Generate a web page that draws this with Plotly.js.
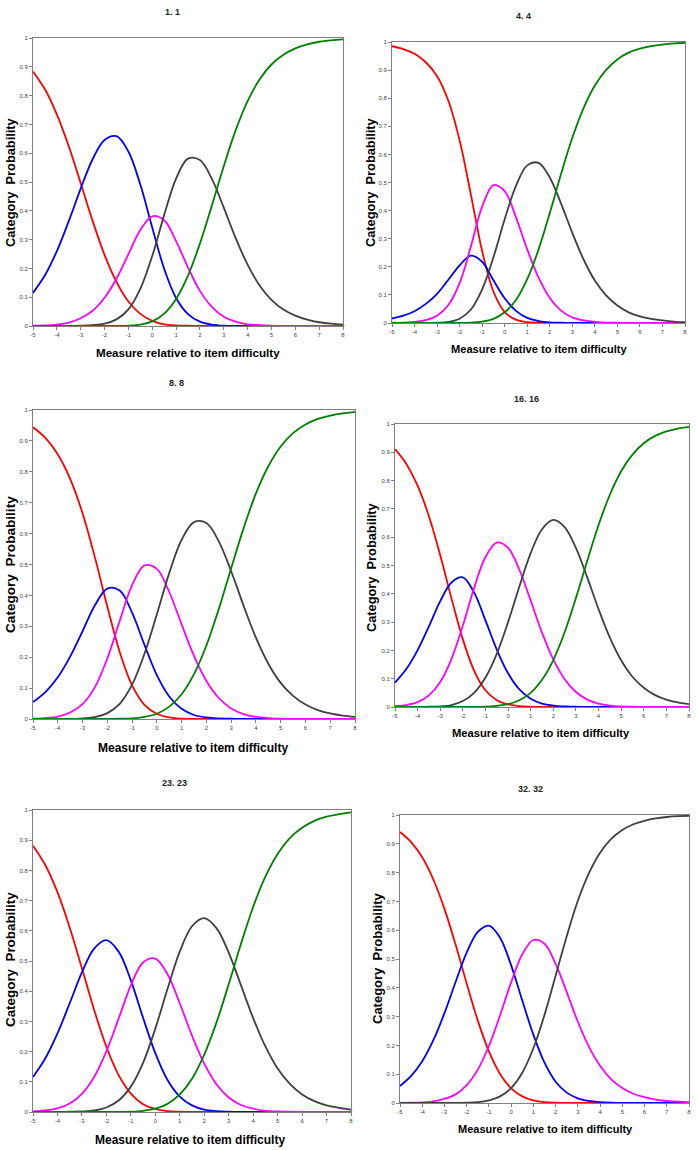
<!DOCTYPE html>
<html><head><meta charset="utf-8">
<script src="https://cdn.plot.ly/plotly-3.0.1.min.js"></script>
<style>html,body{margin:0;padding:0;background:#fff}#chart{width:696px;height:1150px}</style>
</head><body><div id="chart"></div>
<script>
// Measure relative to item difficulty (x positions of read values)
const measure = [-5,-4.5,-4,-3.5,-3,-2.5,-2,-1.5,-1,-0.5,0,0.5,1,1.5,2,2.5,3,3.5,4,4.5,5,5.5,6,6.5,7,7.5,8];
const xTicks = [-5,-4,-3,-2,-1,0,1,2,3,4,5,6,7,8];
const yTicks = [0,0.1,0.2,0.3,0.4,0.5,0.6,0.7,0.8,0.9,1];
const yTickText = ["0","0.1","0.2","0.3","0.4","0.5","0.6","0.7","0.8","0.9","1"];
const itemTitles = ["1. 1","4. 4","8. 8","16. 16","23. 23","32. 32"];
const xTitle = "Measure relative to item difficulty";
const yTitle = "Category\u00a0\u00a0Probability";

// Item 1.1
const item1_cat0 = [0.884,0.822,0.735,0.624,0.496,0.365,0.247,0.153,0.085,0.042,0.018,0.006,0.002,0.001,0,0,0,0,0,0,0,0,0,0,0,0,0];
const item1_cat1 = [0.115,0.176,0.260,0.364,0.477,0.579,0.646,0.659,0.606,0.491,0.342,0.199,0.097,0.041,0.015,0.005,0.001,0,0,0,0,0,0,0,0,0,0];
const item1_cat2 = [0.001,0.002,0.005,0.012,0.027,0.053,0.098,0.164,0.249,0.333,0.381,0.367,0.295,0.203,0.122,0.066,0.032,0.015,0.006,0.003,0.001,0,0,0,0,0,0];
const item1_cat3 = [0,0,0,0,0.001,0.003,0.008,0.023,0.058,0.129,0.243,0.385,0.512,0.581,0.576,0.511,0.411,0.305,0.213,0.141,0.091,0.057,0.036,0.022,0.013,0.008,0.005];
const item1_cat4 = [0,0,0,0,0,0,0,0,0.001,0.005,0.016,0.043,0.094,0.175,0.286,0.418,0.555,0.680,0.781,0.856,0.908,0.942,0.964,0.978,0.987,0.992,0.995];

// Item 4.4
const item4_cat0 = [0.985,0.975,0.958,0.928,0.878,0.791,0.650,0.457,0.256,0.112,0.039,0.012,0.003,0.001,0,0,0,0,0,0,0,0,0,0,0,0,0];
const item4_cat1 = [0.016,0.026,0.042,0.068,0.104,0.154,0.205,0.240,0.218,0.152,0.088,0.043,0.018,0.007,0.002,0.001,0,0,0,0,0,0,0,0,0,0,0];
const item4_cat2 = [0.001,0.001,0.004,0.010,0.026,0.064,0.142,0.272,0.414,0.491,0.469,0.376,0.262,0.162,0.089,0.044,0.020,0.009,0.004,0.001,0.001,0,0,0,0,0,0];
const item4_cat3 = [0,0,0,0,0.001,0.004,0.015,0.048,0.120,0.234,0.369,0.488,0.561,0.570,0.518,0.425,0.321,0.226,0.151,0.098,0.062,0.038,0.024,0.015,0.009,0.005,0.003];
const item4_cat4 = [0,0,0,0,0,0,0,0.001,0.005,0.015,0.038,0.082,0.156,0.261,0.391,0.530,0.659,0.765,0.845,0.901,0.938,0.962,0.976,0.985,0.991,0.995,0.997];

// Item 8.8
const item8_cat0 = [0.944,0.910,0.857,0.777,0.666,0.523,0.364,0.217,0.109,0.046,0.017,0.005,0.001,0,0,0,0,0,0,0,0,0,0,0,0,0,0];
const item8_cat1 = [0.055,0.087,0.135,0.202,0.284,0.368,0.422,0.416,0.344,0.240,0.142,0.073,0.033,0.013,0.005,0.002,0.001,0,0,0,0,0,0,0,0,0,0];
const item8_cat2 = [0.001,0.003,0.008,0.021,0.048,0.103,0.196,0.317,0.433,0.497,0.486,0.411,0.306,0.204,0.123,0.068,0.034,0.016,0.007,0.003,0.001,0,0,0,0,0,0];
const item8_cat3 = [0,0,0,0,0.002,0.006,0.019,0.049,0.111,0.211,0.339,0.472,0.580,0.637,0.634,0.575,0.478,0.367,0.263,0.179,0.117,0.075,0.047,0.029,0.018,0.011,0.007];
const item8_cat4 = [0,0,0,0,0,0,0,0.001,0.002,0.007,0.017,0.040,0.080,0.145,0.238,0.356,0.488,0.617,0.730,0.818,0.882,0.925,0.953,0.971,0.982,0.989,0.993];

// Item 16.16
const item16_cat0 = [0.911,0.859,0.782,0.674,0.536,0.383,0.239,0.128,0.059,0.024,0.009,0.003,0.001,0,0,0,0,0,0,0,0,0,0,0,0,0,0];
const item16_cat1 = [0.086,0.134,0.201,0.285,0.374,0.440,0.458,0.404,0.306,0.203,0.119,0.062,0.029,0.012,0.005,0.002,0.001,0,0,0,0,0,0,0,0,0,0];
const item16_cat2 = [0.003,0.007,0.017,0.041,0.088,0.170,0.288,0.421,0.530,0.581,0.562,0.485,0.376,0.263,0.168,0.098,0.053,0.026,0.012,0.005,0.002,0.001,0,0,0,0,0];
const item16_cat3 = [0,0,0,0.001,0.002,0.007,0.021,0.050,0.104,0.188,0.300,0.426,0.544,0.628,0.661,0.636,0.562,0.458,0.346,0.245,0.165,0.107,0.068,0.042,0.026,0.016,0.010];
const item16_cat4 = [0,0,0,0,0,0,0,0,0.001,0.004,0.010,0.024,0.050,0.096,0.166,0.264,0.385,0.516,0.643,0.750,0.833,0.892,0.932,0.958,0.974,0.984,0.990];

// Item 23.23
const item23_cat0 = [0.882,0.818,0.728,0.611,0.476,0.338,0.216,0.122,0.061,0.026,0.010,0.003,0.001,0,0,0,0,0,0,0,0,0,0,0,0,0,0];
const item23_cat1 = [0.116,0.177,0.260,0.360,0.462,0.541,0.569,0.531,0.436,0.312,0.195,0.106,0.051,0.022,0.008,0.003,0.001,0,0,0,0,0,0,0,0,0,0];
const item23_cat2 = [0.002,0.005,0.012,0.028,0.060,0.116,0.201,0.309,0.419,0.495,0.508,0.456,0.360,0.253,0.160,0.092,0.048,0.023,0.011,0.004,0.002,0.001,0,0,0,0,0];
const item23_cat3 = [0,0,0,0.001,0.002,0.005,0.015,0.038,0.084,0.163,0.276,0.408,0.531,0.615,0.642,0.609,0.528,0.420,0.311,0.217,0.144,0.093,0.058,0.036,0.022,0.014,0.008];
const item23_cat4 = [0,0,0,0,0,0,0,0,0.001,0.004,0.011,0.027,0.058,0.110,0.190,0.296,0.423,0.556,0.679,0.779,0.854,0.907,0.941,0.964,0.978,0.986,0.992];

// Item 32.32 (four categories)
const item32_cat0 = [0.941,0.906,0.853,0.776,0.674,0.550,0.415,0.286,0.179,0.101,0.051,0.023,0.009,0.003,0.001,0,0,0,0,0,0,0,0,0,0,0,0];
const item32_cat1 = [0.059,0.094,0.145,0.218,0.312,0.420,0.522,0.594,0.616,0.574,0.478,0.356,0.237,0.140,0.074,0.036,0.016,0.007,0.003,0.001,0,0,0,0,0,0,0];
const item32_cat2 = [0,0.001,0.002,0.006,0.014,0.030,0.062,0.116,0.198,0.304,0.419,0.516,0.566,0.553,0.483,0.385,0.282,0.195,0.129,0.082,0.052,0.032,0.020,0.012,0.007,0.005,0.003];
const item32_cat3 = [0,0,0,0,0,0,0.001,0.003,0.009,0.023,0.052,0.105,0.190,0.306,0.442,0.579,0.702,0.798,0.869,0.917,0.948,0.968,0.980,0.988,0.993,0.996,0.997];

const catColors = ["#ff0000","#0000ff","#ff00ff","#404040","#008000"];
const series = [
  [item1_cat0,item1_cat1,item1_cat2,item1_cat3,item1_cat4],
  [item4_cat0,item4_cat1,item4_cat2,item4_cat3,item4_cat4],
  [item8_cat0,item8_cat1,item8_cat2,item8_cat3,item8_cat4],
  [item16_cat0,item16_cat1,item16_cat2,item16_cat3,item16_cat4],
  [item23_cat0,item23_cat1,item23_cat2,item23_cat3,item23_cat4],
  [item32_cat0,item32_cat1,item32_cat2,item32_cat3]
];

// Layout geometry in pixels (page 696x1150)
const W = 696, H = 1150;
const boxes = [
  {l:33, r:343, t:38, b:326, title:[172,12], xt:[188,352,11.6], yt:[10,182,12.8]},
  {l:392,r:685, t:42, b:323, title:[523,16], xt:[539,349,11.1], yt:[370,182,12.8]},
  {l:33, r:355, t:410,b:719, title:[176,383], xt:[193,748,12.0], yt:[10,565,13.6]},
  {l:395,r:689, t:424,b:707, title:[526,399], xt:[541,733,11.2], yt:[371,567,12.8]},
  {l:33, r:351, t:810,b:1112,title:[174,783], xt:[190,1140,12.0], yt:[10,960,13.4]},
  {l:400,r:689, t:815,b:1103,title:[530,789], xt:[545,1129,11.0], yt:[377,958,13.0]}
];

const traces = [];
const layout = {
  width: W, height: H, margin:{l:0,r:0,t:0,b:0},
  paper_bgcolor:"#fff", plot_bgcolor:"#fff", showlegend:false,
  font:{family:"Liberation Sans, Arial, sans-serif", color:"#222"},
  annotations: []
};

boxes.forEach((bx, i) => {
  const n = i === 0 ? "" : String(i+1);
  const xa = "x"+n, ya = "y"+n;
  series[i].forEach((vals, k) => {
    traces.push({
      type:"scatter", mode:"lines", x:measure, y:vals,
      xaxis:xa, yaxis:ya,
      line:{color:catColors[k], width:1.8, shape:"spline", smoothing:1},
      hoverinfo:"skip"
    });
  });
  const axCommon = {
    showline:true, linecolor:"#808080", linewidth:1, mirror:true,
    ticks:"outside", ticklen:3, tickwidth:1, tickcolor:"#808080",
    showgrid:false, zeroline:false, fixedrange:true,
    tickfont:{size:6, color:"#444", family:"Liberation Sans, Arial, sans-serif"}
  };
  layout["xaxis"+n] = Object.assign({}, axCommon, {
    domain:[bx.l/W, bx.r/W], range:[-5,8], anchor:ya,
    tickmode:"array", tickvals:xTicks, ticktext:xTicks.map(String)
  });
  layout["yaxis"+n] = Object.assign({}, axCommon, {
    domain:[1-bx.b/H, 1-bx.t/H], range:[0,1], anchor:xa,
    tickmode:"array", tickvals:yTicks, ticktext:yTickText
  });
  layout.annotations.push({
    xref:"paper", yref:"paper", x:bx.title[0]/W, y:1-bx.title[1]/H,
    xanchor:"center", yanchor:"middle", showarrow:false,
    text:"<b>"+itemTitles[i]+"</b>", font:{size:9, color:"#222"}
  });
  layout.annotations.push({
    xref:"paper", yref:"paper", x:bx.xt[0]/W, y:1-bx.xt[1]/H,
    xanchor:"center", yanchor:"middle", showarrow:false,
    text:"<b>"+xTitle+"</b>", font:{size:bx.xt[2], color:"#000"}
  });
  layout.annotations.push({
    xref:"paper", yref:"paper", x:bx.yt[0]/W, y:1-bx.yt[1]/H,
    xanchor:"center", yanchor:"middle", showarrow:false, textangle:-90,
    text:"<b>"+yTitle+"</b>", font:{size:bx.yt[2], color:"#000"}
  });
});

Plotly.newPlot("chart", traces, layout, {displayModeBar:false, staticPlot:true});
</script>
</body></html>
